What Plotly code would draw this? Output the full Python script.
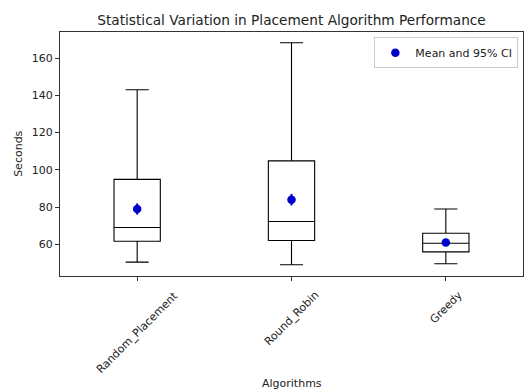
import plotly.graph_objects as go

categories = ["Random_Placement", "Round_Robin", "Greedy"]
positions = [1, 2, 3]
lower_whisker = [50.5, 49.1, 49.6]
q1 = [61.7, 62.1, 56.0]
median = [69.1, 72.3, 60.6]
q3 = [94.9, 104.8, 66.0]
upper_whisker = [143.0, 168.2, 79.0]
means = [79.0, 84.0, 61.0]
ci_half = [3.0, 3.1, 1.5]
y_ticks = [60, 80, 100, 120, 140, 160]

FONT = "DejaVu Sans, Arial, sans-serif"
TXT = "#222222"
FS = 11

fig = go.Figure()
fig.add_trace(go.Box(
    x=positions, q1=q1, median=median, q3=q3,
    lowerfence=lower_whisker, upperfence=upper_whisker,
    width=0.3, whiskerwidth=0.5,
    line=dict(color="black", width=1.1),
    fillcolor="rgba(255,255,255,0)",
    showlegend=False, hoverinfo="skip",
))
fig.add_trace(go.Scatter(
    x=positions, y=means, mode="markers",
    marker=dict(color="#0000cc", size=8.5),
    error_y=dict(type="data", array=ci_half, color="#0000cc", thickness=2, width=0),
    name="Mean and 95% CI",
))

annotations = []
for p, c in zip(positions, categories):
    annotations.append(dict(
        x=p, xref="x", y=-0.04, yref="paper", text=c, showarrow=False,
        textangle=-45, xanchor="center", yanchor="top",
        font=dict(family=FONT, size=FS, color=TXT),
    ))
annotations.append(dict(
    x=0.5, xref="paper", y=-0.44, yref="paper", text="Algorithms", showarrow=False,
    xanchor="center", yanchor="middle", font=dict(family=FONT, size=FS, color=TXT),
))
annotations.append(dict(
    x=-0.091, xref="paper", y=0.5, yref="paper", text="Seconds", showarrow=False,
    textangle=-90, xanchor="center", yanchor="middle", font=dict(family=FONT, size=FS, color=TXT),
))

fig.update_layout(
    width=528, height=391,
    margin=dict(l=60, r=5, t=32, b=115),
    paper_bgcolor="white", plot_bgcolor="white",
    font=dict(family=FONT, size=FS, color=TXT),
    title=dict(text="Statistical Variation in Placement Algorithm Performance",
               x=0.5, xref="paper", xanchor="center", y=0.948, yref="container", yanchor="middle",
               font=dict(family=FONT, size=13.7, color=TXT)),
    showlegend=True,
    legend=dict(x=0.99, y=0.978, xanchor="right", yanchor="top",
                bordercolor="#cccccc", borderwidth=1, bgcolor="white",
                font=dict(family=FONT, size=FS, color=TXT)),
    annotations=annotations,
)
fig.update_xaxes(range=[0.5, 3.5], tickvals=positions, showticklabels=False,
                 ticks="outside", ticklen=4, tickcolor="#333", showgrid=False, zeroline=False,
                 showline=True, linecolor="#333", linewidth=1, mirror=True)
fig.update_yaxes(range=[43.05, 173.95], tickvals=y_ticks, ticks="outside", ticklen=4,
                 tickcolor="#333", showgrid=False, zeroline=False,
                 showline=True, linecolor="#333", linewidth=1, mirror=True,
                 tickfont=dict(family=FONT, size=FS, color=TXT))

fig.write_html("out.html", config={"displayModeBar": False},
               post_script="document.body.style.margin='0';")
